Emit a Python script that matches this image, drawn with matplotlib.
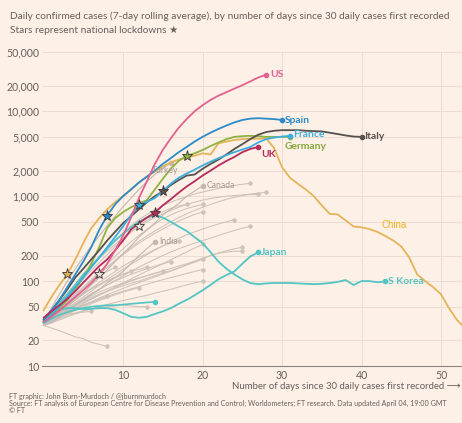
import matplotlib
matplotlib.use("Agg")
import matplotlib.pyplot as plt
from matplotlib.ticker import FixedLocator, NullLocator, FuncFormatter
import numpy as np

plt.rcParams['font.family'] = ['Lato', 'DejaVu Sans']

# ---------------- data ----------------
us = [33, 38, 45, 54, 65, 78, 95, 120, 160, 230, 340, 560, 950, 1500, 2400, 3500, 4800, 6400,
      8100, 10000, 11800, 13600, 15300, 16800, 18500, 20300, 22500, 25000, 27000]
spain = [35, 45, 60, 85, 120, 170, 250, 400, 590, 800, 1000, 1200, 1450, 1700, 2000, 2400, 2800,
         3300, 3800, 4400, 5000, 5600, 6200, 6800, 7400, 7900, 8200, 8300, 8200, 8100, 7900]
france = [33, 40, 50, 65, 85, 110, 145, 190, 250, 330, 440, 600, 780, 860, 950, 1150, 1400, 1650,
          1850, 2050, 2300, 2550, 2800, 3050, 3300, 3550, 3800, 4300, 4700, 4900, 5050, 5150]
germany = [33, 40, 48, 60, 80, 110, 160, 250, 420, 550, 650, 740, 820, 900, 1200, 1600, 2100, 2600,
           3000, 3200, 3500, 3900, 4300, 4700, 5000, 5100, 5150, 5100, 5000, 5000, 5000, 5000]
italy = [35, 45, 60, 80, 110, 140, 180, 230, 300, 380, 480, 580, 700, 850, 1000, 1140, 1350, 1550,
         1750, 1800, 2100, 2400, 2700, 3100, 3600, 4100, 4700, 5300, 5700, 5900, 6000, 6000, 6000,
         5900, 5850, 5800, 5600, 5400, 5200, 5050, 5000]
uk = [37, 44, 52, 62, 76, 96, 120, 150, 180, 230, 300, 405, 480, 560, 640, 780, 920, 1100, 1300,
      1500, 1750, 2000, 2300, 2600, 2900, 3300, 3600, 3800]
china = [45, 65, 90, 120, 180, 280, 420, 550, 700, 850, 1000, 1200, 1450, 1700, 1950, 2250, 2500,
         2700, 2850, 3000, 3200, 3100, 4200, 4400, 4600, 4700, 4750, 4750, 4800, 3700, 2200, 1650,
         1400, 1200, 1000, 780, 620, 610, 520, 440, 430, 410, 380, 340, 300, 256, 190, 120, 100, 85,
         70, 48, 35, 28]
s_korea = [33, 42, 55, 70, 90, 120, 150, 190, 240, 300, 360, 430, 500, 560, 600, 560, 500, 440, 390,
           330, 280, 220, 170, 140, 120, 105, 95, 92, 94, 95, 95, 95, 94, 93, 92, 93, 95, 98, 103, 90,
           100, 100, 97, 99]
japan = [33, 40, 46, 48, 48, 47, 47, 48, 48, 46, 42, 38, 37, 38, 41, 44, 48, 54, 60, 68, 78, 90, 105,
         118, 130, 160, 195, 218]
teal_other = [32, 36, 40, 43, 46, 48, 50, 51, 52, 52, 53, 54, 55, 56, 57]
turkey = [35, 48, 70, 100, 140, 190, 260, 340, 450, 580, 750, 950, 1200, 1480, 1800, 2150, 2450]
canada = [32, 36, 42, 50, 60, 72, 90, 110, 135, 170, 210, 260, 330, 400, 480, 600, 700, 820, 1000,
          1150, 1320]
india = [30, 33, 38, 45, 52, 60, 70, 80, 95, 110, 130, 160, 200, 240, 290]

greys = [
    [32, 40, 52, 68, 88, 115, 150, 190, 240, 300, 370, 450, 530, 610, 690, 770, 850, 920, 990, 1060,
     1120, 1180, 1240, 1290, 1340, 1380, 1420],
    [30, 36, 44, 55, 68, 84, 100, 120, 145, 175, 210, 250, 295, 340, 390, 440, 500, 560, 620, 680,
     740, 800, 860, 920, 970, 1020, 1060, 1090, 1110],
    [35, 44, 56, 72, 92, 118, 150, 185, 225, 270, 320, 380, 440, 500, 560, 620, 680, 740, 800, 850,
     900, 940, 970, 1000, 1020, 1035, 1045, 1050],
    [31, 40, 52, 66, 84, 106, 133, 165, 205, 255, 310, 375, 450, 520, 590, 660, 720, 770, 800],
    [30, 37, 45, 55, 68, 84, 104, 128, 158, 195, 240, 290, 345, 405, 470, 540, 600, 660, 715, 760, 800],
    [33, 40, 48, 58, 70, 85, 102, 122, 146, 174, 205, 240, 280, 320, 365, 410, 460, 510, 560, 610, 650],
    [30, 35, 41, 48, 56, 65, 76, 89, 104, 120, 138, 158, 180, 205, 232, 260, 290, 320, 350, 380, 410,
     440, 470, 500, 530],
    [30, 34, 39, 45, 52, 60, 69, 79, 90, 102, 115, 130, 146, 163, 181, 200, 220, 240, 260, 280, 300,
     320, 345, 370, 395, 420, 440],
    [30, 34, 38, 43, 48, 54, 61, 68, 76, 85, 95, 106, 118, 131, 145, 160, 178, 198, 220, 245, 270],
    [32, 36, 40, 45, 50, 56, 62, 69, 76, 84, 92, 100, 108, 116, 124, 132, 141, 150, 160, 172, 185,
     200, 215, 228, 240, 250],
    [31, 35, 40, 46, 52, 58, 64, 70, 76, 82, 88, 94, 100, 108, 116, 124, 133, 143, 155, 167, 180],
    [30, 36, 43, 51, 60, 70, 82, 96, 112, 130, 150, 170, 190, 210, 235, 260, 280, 300],
    [32, 36, 41, 47, 54, 62, 71, 80, 90, 100, 110, 120, 130, 140, 150, 160, 170],
    [30, 33, 37, 41, 46, 51, 56, 61, 66, 71, 76, 81, 86, 92, 98, 104, 110, 116, 123, 130, 137],
    [30, 32, 35, 38, 41, 44, 47, 50, 53, 56, 59, 62, 65, 68, 72, 76, 80, 85, 90, 95, 100],
    [33, 40, 48, 58, 70, 84, 100, 115, 130, 145],
    [31, 37, 44, 52, 61, 71, 81, 91, 101, 111, 121, 130],
    [34, 40, 47, 55, 63, 72, 81, 90, 100, 110, 120, 130, 138, 145],
    [30, 35, 41, 47, 53, 60, 67, 74, 81, 88, 95, 102, 109, 116, 123, 130],
    [30, 33, 37, 41, 45, 49, 54, 59, 64, 69, 74, 79, 84],
    [32, 36, 40, 44, 48, 52, 56, 61, 66],
    [30, 33, 36, 39, 42, 45, 47, 49, 50, 51, 52, 51, 50, 50],
    [35, 37, 39, 41, 42, 43, 44],
    [30, 28, 26, 24, 22, 21, 19, 18, 17],
    [31, 34, 38, 42, 47, 52, 57, 63, 69, 75, 82, 89, 96, 104, 112, 121, 131, 142, 155, 170, 185, 200,
     212, 220, 225, 225],
]
grey_star_series = {5: 7, 3: 12}   # grey series index -> lockdown day

# lockdown stars: country -> day index
lockdown_days = {'China': 3, 'Spain': 8, 'France': 12, 'UK': 14, 'Italy': 15, 'Germany': 18}

yticks = [10, 20, 50, 100, 200, 500, 1000, 2000, 5000, 10000, 20000, 50000]
xticks = [10, 20, 30, 40, 50]

# ---------------- style ----------------
BG = '#fdf0e6'
TXT = '#66605c'
GREY = '#cdc3bb'
C = {
    'US': '#e3608f', 'Spain': '#2b8bc8', 'France': '#3caee0', 'Germany': '#8db441',
    'Italy': '#57524e', 'UK': '#b72a5c', 'China': '#e5b45a', 'S Korea': '#52c5c4',
    'Japan': '#52c5c4',
}

W, H = 462, 423
fig = plt.figure(figsize=(W / 100, H / 100), dpi=100, facecolor=BG)
ax = fig.add_axes([42 / W, 1 - 366 / H, 420 / W, (366 - 52) / H])
ax.set_facecolor(BG)
ax.set_yscale('log')
ax.set_ylim(10, 50000)
ax.set_xlim(-0.19, 52.64)

ax.yaxis.set_major_locator(FixedLocator(yticks))
ax.yaxis.set_minor_locator(NullLocator())
ax.yaxis.set_major_formatter(FuncFormatter(lambda v, p: f"{int(v):,}"))
ax.xaxis.set_major_locator(FixedLocator(xticks))
ax.tick_params(axis='both', length=0, labelsize=7.6, colors=TXT)
ax.tick_params(axis='y', pad=2)
ax.tick_params(axis='x', pad=3)
ax.grid(True, color='#ecdcd2', lw=0.7, zorder=0)
for s in ['top', 'right', 'left']:
    ax.spines[s].set_visible(False)
ax.spines['bottom'].set_color('#8a827d')
ax.spines['bottom'].set_linewidth(0.8)


def draw(vals, color, lw, z, dot=3.0):
    d = np.arange(len(vals))
    ax.plot(d, vals, color=color, lw=lw, zorder=z, solid_capstyle='round')
    ax.plot(d[-1], vals[-1], 'o', color=color, ms=dot, zorder=z + 0.1)


for i, g in enumerate(greys):
    draw(g, GREY, 0.75, 2, dot=2.2)
for name, vals in [('Turkey', turkey), ('Canada', canada), ('India', india)]:
    draw(vals, '#c2b8b0', 0.8, 2.5, dot=3.0)

draw(teal_other, C['Japan'], 1.2, 3)
draw(japan, C['Japan'], 1.3, 3)
draw(s_korea, C['S Korea'], 1.3, 3)
draw(china, C['China'], 1.3, 3.2)
draw(germany, C['Germany'], 1.3, 3.4)
draw(italy, C['Italy'], 1.3, 3.5)
draw(france, C['France'], 1.3, 3.6)
draw(spain, C['Spain'], 1.3, 3.7)
draw(uk, C['UK'], 1.3, 3.8)
draw(us, C['US'], 1.3, 3.9)

series = {'US': us, 'Spain': spain, 'France': france, 'Germany': germany, 'Italy': italy,
          'UK': uk, 'China': china}
for name, day in lockdown_days.items():
    ax.plot(day, series[name][day], marker='*', ms=8, mfc=C[name], mec='#3a3532', mew=0.6, zorder=6)
for gi, day in grey_star_series.items():
    ax.plot(day, greys[gi][day], marker='*', ms=8, mfc='#ece3db', mec='#3a3532', mew=0.6, zorder=6)


def label(name, vals, color, dx, dy, size=7.4, weight='bold'):
    ax.annotate(name, (len(vals) - 1, vals[-1]), xytext=(dx, dy), textcoords='offset pixels',
                ha='left', va='center', color=color, fontsize=size, fontweight=weight, zorder=7)


label('US', us, C['US'], 4, 0)
label('Spain', spain, C['Spain'], 3, 0)
label('France', france, C['France'], 3, 1)
label('Germany', germany, '#86a83c', -5, -10)
label('Italy', italy, C['Italy'], 3, 0)
label('UK', uk, C['UK'], 3, -7)
label('Japan', japan, C['Japan'], 3, 0)
label('S Korea', s_korea, C['S Korea'], 3, 0)
label('Turkey', turkey, '#a49b94', -19, -7, size=6.2, weight='normal')
label('Canada', canada, '#a49b94', 4, 0, size=6.2, weight='normal')
label('India', india, '#a49b94', 4, 0, size=6.2, weight='normal')
fig.text(382 / W, 1 - 225 / H, 'China', color='#f0b323', fontsize=7,
         family=['Liberation Sans', 'DejaVu Sans'], va='center', ha='left')

# titles
fig.text(10 / W, 1 - 16 / H, 'Daily confirmed cases (7-day rolling average), by number of days since 30 daily cases first recorded',
         fontsize=7.3, color=TXT, va='center', ha='left')
fig.text(10 / W, 1 - 30 / H, 'Stars represent national lockdowns \u2605', fontsize=7.3, color=TXT,
         va='center', ha='left')

fig.text(460 / W, 1 - 386.5 / H, 'Number of days since 30 daily cases first recorded \u27f6',
         fontsize=6.9, color=TXT, va='center', ha='right')

fig.text(9 / W, 1 - 396 / H, 'FT graphic: John Burn-Murdoch / @jburnmurdoch', fontsize=5.1, color=TXT,
         va='center', ha='left')
fig.text(9 / W, 1 - 403 / H,
         'Source: FT analysis of European Centre for Disease Prevention and Control; Worldometers; FT research. Data updated April 04, 19:00 GMT',
         fontsize=5.1, color=TXT, va='center', ha='left')
fig.text(9 / W, 1 - 410 / H, '\u00a9 FT', fontsize=5.1, color=TXT, va='center', ha='left')

fig.savefig('out.png', dpi=100, facecolor=BG)
